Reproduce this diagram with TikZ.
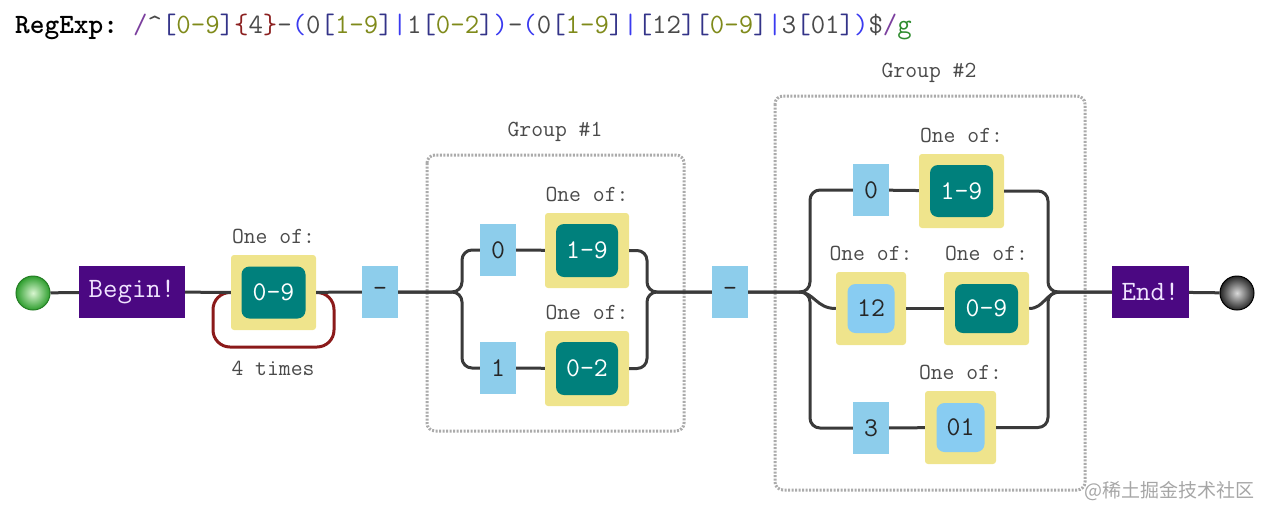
\documentclass[tikz,border=0pt]{standalone}
\usepackage{fontspec}
\newfontfamily\cjk{Noto Sans CJK SC}
\usetikzlibrary{positioning,calc}
\definecolor{litblue}{HTML}{8DCDEB}
\definecolor{litblue2}{HTML}{88CCF2}
\definecolor{khakibox}{HTML}{EFE48C}
\definecolor{tealbox}{HTML}{00807C}
\definecolor{purplebox}{HTML}{4B0882}
\definecolor{purpletext}{HTML}{F0E4FF}
\definecolor{connc}{HTML}{3A3A3A}
\definecolor{loopc}{HTML}{8B1A1A}
\definecolor{groupc}{HTML}{ABABAB}
\definecolor{lblc}{HTML}{4A4A4A}
\definecolor{rxpurple}{HTML}{7B3F9E}
\definecolor{rxnavy}{HTML}{333388}
\definecolor{rxolive}{HTML}{7F8A1A}
\definecolor{rxred}{HTML}{8B2020}
\definecolor{rxgray}{HTML}{4A4A4A}
\definecolor{rxblue}{HTML}{3A3AF0}
\definecolor{rxgreen}{HTML}{2E8B2E}
\definecolor{ballgreenin}{HTML}{D8F5D0}
\definecolor{ballgreenout}{HTML}{2E9E2E}
\begin{document}
\begin{tikzpicture}[x=1pt,y=-1pt,
  conn/.style={line width=3pt,draw=connc},
  boxfont/.style={font=\ttfamily\fontsize{27}{27}\selectfont},
  litbox/.style={boxfont,fill=litblue,minimum width=36pt,minimum height=52pt,inner sep=0pt,text=black!85},
  outerbox/.style={fill=khakibox,rounded corners=3pt,inner sep=0pt},
  tealinner/.style={boxfont,fill=tealbox,rounded corners=8pt,minimum width=63pt,minimum height=52pt,inner sep=0pt,text=white},
  litinner/.style={boxfont,fill=litblue2,rounded corners=8pt,minimum width=48pt,minimum height=49pt,inner sep=0pt,text=black!85},
  anchorbox/.style={boxfont,fill=purplebox,text=purpletext,minimum height=52pt,inner sep=0pt,font=\ttfamily\fontsize{28}{28}\selectfont},
  lbl/.style={font=\ttfamily\fontsize{23}{23}\selectfont,text=lblc,inner sep=0pt},
  groupbox/.style={draw=groupc,line width=3pt,dash pattern=on 2pt off 1.5pt,rounded corners=8pt},
  ballnode/.style={circle,minimum size=34pt,inner sep=0pt}
]
\useasboundingbox (0,0) rectangle (1261,507);

% header
\node[anchor=base west,inner sep=0pt,font=\ttfamily\bfseries\fontsize{28}{28}\selectfont] (hdr) at (15,33) {RegExp:};
\node[anchor=base west,inner sep=0pt,font=\ttfamily\fontsize{28}{28}\selectfont,text=rxgray] (rx) at (133,33) {%
{\color{rxpurple}/}\textasciicircum{\color{rxnavy}[}{\color{rxolive}0-9}{\color{rxnavy}]}{\color{rxred}\{}4{\color{rxred}\}}-%
{\color{rxblue}(}0{\color{rxnavy}[}{\color{rxolive}1-9}{\color{rxnavy}]}{\color{rxblue}|}1{\color{rxnavy}[}{\color{rxolive}0-2}{\color{rxnavy}]}{\color{rxblue})}-%
{\color{rxblue}(}0{\color{rxnavy}[}{\color{rxolive}1-9}{\color{rxnavy}]}{\color{rxblue}|}{\color{rxnavy}[}12{\color{rxnavy}]}{\color{rxnavy}[}{\color{rxolive}0-9}{\color{rxnavy}]}{\color{rxblue}|}3{\color{rxnavy}[}01{\color{rxnavy}]}{\color{rxblue})}\${\color{rxpurple}/}{\color{rxgreen}g}};

% group frames
\draw[groupbox] (427,155) rectangle (684,431);
\node[lbl] (g1lbl) at (555,132) {Group \#1};
\draw[groupbox] (775,96) rectangle (1085,490);
\node[lbl] (g2lbl) at (929,73) {Group \#2};

% start / end
\node[ballnode,inner color=ballgreenin,outer color=ballgreenout,draw=ballgreenout!80!black,line width=1pt] (start) at (33,293) {};
\node[anchorbox,minimum width=106pt] (begin) at (132,292) {Begin!};
\node[anchorbox,minimum width=77pt] (end) at (1150.5,292) {End!};
\node[ballnode,inner color=white!85!black,outer color=black!85,draw=black,line width=1pt] (stop) at (1237,293) {};

% quantified 0-9
\draw[line width=3pt,draw=loopc,rounded corners=17pt] (231,292.5) -- (213,292.5) -- (213,347) -- (334,347) -- (334,292.5) -- (316,292.5);
\node[outerbox,minimum width=85pt,minimum height=75pt] (oo1) at (273.5,292.5) {};
\node[tealinner,minimum width=64pt] (oi1) at (oo1) {0-9};
\node[lbl,above=11pt of oo1] (oo1l) {One of:};
\node[lbl] (times) at (273,368) {4 times};

\node[litbox] (dash1) at (380,292) {-};
\node[litbox] (dash2) at (730,292) {-};

% group 1
\node[litbox] (g1a) at (498,250) {0};
\node[outerbox,minimum width=84pt,minimum height=75pt] (g1b) at (587,250.5) {};
\node[tealinner,minimum width=62pt,minimum height=53pt] (g1bi) at (g1b) {1-9};
\node[lbl,above=11pt of g1b] (g1bl) {One of:};
\node[litbox] (g1c) at (498,368) {1};
\node[outerbox,minimum width=84pt,minimum height=75pt] (g1d) at (587,368.5) {};
\node[tealinner,minimum width=62pt,minimum height=53pt] (g1di) at (g1d) {0-2};
\node[lbl,above=11pt of g1d] (g1dl) {One of:};

% group 2
\node[litbox] (g2a) at (871,190) {0};
\node[outerbox,minimum width=85pt,minimum height=74pt] (g2b) at (961.5,191) {};
\node[tealinner] (g2bi) at (g2b) {1-9};
\node[lbl,above=11pt of g2b] (g2bl) {One of:};
\node[outerbox,minimum width=70pt,minimum height=73pt] (g2c) at (871,308.5) {};
\node[litinner,minimum width=47pt] (g2ci) at (g2c) {12};
\node[lbl,above=11pt of g2c] (g2cl) {One of:};
\node[outerbox,minimum width=85pt,minimum height=73pt] (g2d) at (986.5,308.5) {};
\node[tealinner,minimum height=49pt] (g2di) at (g2d) {0-9};
\node[lbl,above=11pt of g2d] (g2dl) {One of:};
\node[litbox] (g2e) at (871,428) {3};
\node[outerbox,minimum width=71pt,minimum height=73pt] (g2f) at (960.5,427.5) {};
\node[litinner] (g2fi) at (g2f) {01};
\node[lbl,above=11pt of g2f] (g2fl) {One of:};

% split / merge points
\coordinate (s1) at (462,292);
\coordinate (m1) at (647,292);
\coordinate (s2) at (810,292);
\coordinate (s2m) at (799,292);
\coordinate (m2) at (1048,292);
\coordinate (m2m) at (1060,292);

% connectors
\draw[conn] (start) -- (begin);
\draw[conn] (begin) -- (oo1);
\draw[conn] (oo1) -- (dash1);
\draw[conn,rounded corners=10pt] (dash1.east) -- (s1) |- (g1a.west);
\draw[conn,rounded corners=10pt] (dash1.east) -- (s1) |- (g1c.west);
\draw[conn] (g1a) -- (g1b);
\draw[conn] (g1c) -- (g1d);
\draw[conn,rounded corners=10pt] (g1b.east) -| (m1) -- (dash2.west);
\draw[conn,rounded corners=10pt] (g1d.east) -| (m1) -- (dash2.west);
\draw[conn,rounded corners=10pt] (dash2.east) -- (s2) |- (g2a.west);
\draw[conn,rounded corners=10pt] (dash2.east) -- (s2) |- (g2e.west);
\draw[conn] (s2m) .. controls (814,292) and (816,308.5) .. (g2c.west);
\draw[conn] (g2a) -- (g2b);
\draw[conn] (g2c) -- (g2d);
\draw[conn] (g2e) -- (g2f);
\draw[conn,rounded corners=10pt] (g2b.east) -| (m2) -- (end.west);
\draw[conn,rounded corners=10pt] (g2f.east) -| (m2) -- (end.west);
\draw[conn] (g2d.east) .. controls (1044,308.5) and (1046,292) .. (m2m);
\draw[conn] (end) -- (stop);

% watermark
\node[anchor=base east,inner sep=0pt,text=black!35,font=\cjk\fontsize{19}{19}\selectfont] (wm) at (1255,497) {@稀土掘金技术社区};
\end{tikzpicture}
\end{document}
